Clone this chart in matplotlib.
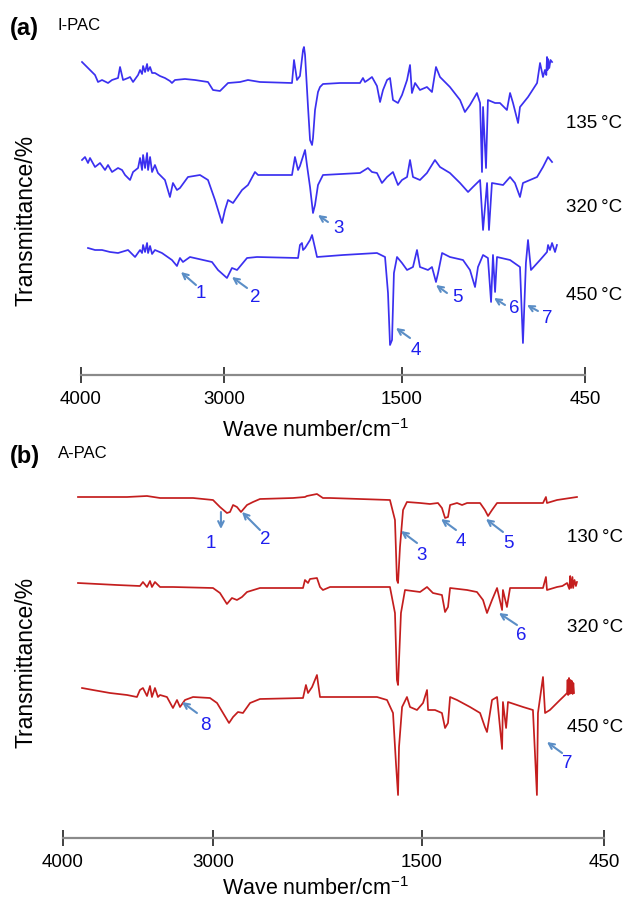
import numpy as np
import matplotlib
matplotlib.use('Agg')
import matplotlib.pyplot as plt

plt.rcParams['font.family'] = ['Liberation Sans', 'DejaVu Sans']
plt.rcParams['mathtext.fontset'] = 'custom'
plt.rcParams['mathtext.rm'] = 'Liberation Sans'

####FTIR spectra, (a) I-PAC and (b) A-PAC####
tick_wn = [4000, 3000, 1500, 450]

# ---- (a) I-PAC ----
a135_wn = [3993, 3951, 3902, 3881, 3853, 3811, 3783, 3741, 3727, 3706, 3671, 3657, 3636, 3601, 3587, 3573,
           3566, 3552, 3538, 3531, 3517, 3503, 3483, 3448, 3413, 3378, 3364, 3343, 3273, 3203, 3112, 3077,
           3028, 2966, 2865, 2798, 2697, 2427, 2410, 2385, 2360, 2334, 2326, 2317, 2292, 2275, 2258, 2250,
           2233, 2208, 2191, 2166, 2022, 1854, 1829, 1812, 1787, 1753, 1711, 1685, 1660, 1626, 1601, 1576,
           1534, 1500, 1471, 1454, 1443, 1425, 1397, 1357, 1328, 1305, 1282, 1225, 1167, 1139, 1110, 1070,
           1052, 1041, 1035, 1018, 1007, 966, 938, 898, 880, 863, 834, 823, 777, 725, 708, 691, 680, 672,
           668, 665, 662, 655, 648, 639]
a135_t = [313, 307, 300, 293, 295, 292, 295, 297, 308, 295, 297, 298, 293, 300, 305, 301,
          309, 303, 311, 304, 308, 302, 302, 299, 297, 294, 292, 295, 296, 295, 293, 285,
          284, 292, 293, 295, 293, 292, 315, 295, 299, 325, 328, 320, 268, 235, 230, 237,
          265, 283, 288, 291, 292, 292, 297, 293, 295, 298, 289, 273, 285, 295, 297, 275,
          272, 280, 295, 310, 282, 292, 285, 288, 283, 308, 298, 288, 275, 263, 270, 282,
          272, 203, 268, 207, 275, 272, 272, 265, 282, 272, 252, 268, 278, 292, 312, 298, 305, 300,
          318, 305, 316, 307, 315, 313]

a320_wn = [3993, 3972, 3951, 3937, 3902, 3867, 3832, 3811, 3783, 3741, 3713, 3692, 3657, 3636, 3601, 3587,
           3573, 3566, 3552, 3538, 3531, 3517, 3503, 3483, 3462, 3413, 3378, 3357, 3329, 3308, 3252, 3168,
           3112, 3063, 3014, 2992, 2966, 2924, 2848, 2798, 2739, 2713, 2427, 2402, 2376, 2360, 2317, 2301,
           2275, 2250, 2233, 2208, 2166, 1854, 1787, 1753, 1711, 1669, 1626, 1576, 1534, 1500, 1471, 1454,
           1437, 1397, 1357, 1311, 1282, 1225, 1167, 1121, 1093, 1052, 1035, 1012, 1001, 984, 920, 880,
           852, 823, 806, 725, 691, 662, 639]
a320_t = [215, 218, 212, 217, 208, 212, 205, 210, 203, 207, 205, 200, 195, 203, 207, 217,
          205, 220, 207, 222, 205, 218, 203, 210, 202, 195, 178, 192, 185, 187, 198, 200,
          195, 175, 152, 165, 175, 172, 185, 190, 203, 200, 200, 218, 205, 209, 225, 210,
          188, 162, 170, 190, 200, 202, 207, 203, 202, 192, 198, 203, 190, 195, 198, 215,
          198, 195, 202, 215, 208, 202, 192, 183, 188, 195, 145, 192, 145, 192, 190, 198,
          192, 178, 192, 198, 208, 218, 213]

a450_wn = [3951, 3902, 3853, 3797, 3741, 3671, 3622, 3587, 3573, 3566, 3552, 3538, 3531, 3517, 3503, 3483,
           3434, 3364, 3329, 3308, 3287, 3238, 3084, 3042, 2975, 2933, 2890, 2806, 2722, 2376, 2360, 2343,
           2334, 2317, 2275, 2258, 2233, 2216, 1997, 1711, 1643, 1618, 1601, 1584, 1568, 1542, 1500, 1471,
           1437, 1414, 1397, 1351, 1328, 1305, 1293, 1270, 1225, 1150, 1110, 1081, 1064, 1035, 1007, 989,
           978, 966, 955, 880, 823, 806, 789, 777, 760, 708, 668, 662, 651, 639, 622, 611]
a450_t = [127, 125, 125, 123, 122, 125, 118, 125, 122, 130, 123, 132, 122, 129, 121, 125,
          122, 115, 109, 117, 113, 118, 113, 105, 97, 107, 105, 117, 118, 117, 130, 132,
          125, 127, 135, 140, 127, 118, 120, 122, 118, 82, 30, 35, 102, 118, 112, 105,
          108, 125, 108, 105, 108, 93, 102, 122, 118, 115, 105, 88, 108, 120, 117, 73,
          120, 83, 118, 115, 108, 32, 112, 135, 105, 115, 123, 130, 125, 132, 123, 130]

a_temps = ['135\u2009°C', '320\u2009°C', '450\u2009°C']
a_peaks = ['1', '2', '3', '4', '5', '6', '7']
a_head_wn = [3301, 2933, 2208, 1551, 1305, 972, 783]
a_head_t = [103, 98, 160, 47, 90, 77, 70]
a_tail_wn = [3196, 2806, 2124, 1454, 1242, 909, 720]
a_tail_t = [90, 87, 153, 37, 82, 70, 64]
a_lab_wn = [3161, 2739, 2031, 1420, 1184, 857, 668]
a_lab_t = [82, 78, 147, 25, 78, 67, 57]

# ---- (b) A-PAC ----
b130_wn = [3900, 3573, 3440, 3353, 3133, 3000, 2950, 2900, 2878, 2856, 2828, 2799, 2756, 2713, 2663, 2426,
           2340, 2326, 2254, 2211, 2160, 1730, 1694, 1680, 1672, 1658, 1636, 1608, 1514, 1454, 1408, 1385,
           1367, 1350, 1338, 1298, 1269, 1240, 1165, 1137, 1119, 1096, 1067, 952, 802, 785, 779, 721, 606]
b130_t = [341, 341, 342, 340, 340, 338, 331, 325, 326, 333, 331, 326, 333, 336, 339, 340,
          341, 342, 344, 340, 340, 338, 318, 258, 255, 291, 328, 336, 335, 334, 335, 330,
          320, 321, 333, 335, 333, 335, 335, 328, 322, 328, 335, 335, 335, 341, 335, 338, 341]

b320_wn = [3900, 3640, 3487, 3467, 3440, 3420, 3407, 3387, 3353, 3267, 3000, 2950, 2900, 2864, 2828, 2792,
           2756, 2663, 2354, 2340, 2318, 2304, 2254, 2232, 2211, 2160, 1730, 1694, 1680, 1672, 1651, 1622,
           1514, 1471, 1437, 1385, 1367, 1350, 1338, 1240, 1183, 1148, 1125, 1096, 1067, 1038, 1033, 1010,
           992, 802, 785, 779, 721, 690, 663, 650, 645, 640, 632, 628, 620, 612, 606]
b320_t = [255, 253, 252, 256, 251, 257, 251, 256, 251, 251, 250, 245, 234, 240, 238, 241,
          246, 250, 250, 258, 255, 259, 260, 251, 248, 251, 251, 225, 158, 153, 225, 248,
          246, 251, 245, 243, 226, 231, 250, 248, 246, 238, 225, 238, 250, 228, 248, 231,
          250, 250, 261, 248, 251, 252, 255, 249, 262, 250, 261, 250, 258, 252, 256]

b450_wn = [3873, 3800, 3687, 3573, 3507, 3487, 3467, 3440, 3420, 3407, 3387, 3367, 3353, 3307, 3267, 3240,
           3220, 3187, 3133, 3020, 2971, 2928, 2885, 2856, 2821, 2785, 2734, 2663, 2354, 2333, 2318, 2289,
           2254, 2232, 1823, 1751, 1708, 1687, 1672, 1665, 1643, 1608, 1586, 1536, 1494, 1471, 1465, 1425,
           1385, 1367, 1350, 1338, 1298, 1223, 1165, 1137, 1125, 1096, 1067, 1038, 1033, 1015, 1004, 917,
           860, 837, 831, 802, 790, 762, 704, 680, 663, 660, 657, 652, 648, 643, 640, 635, 631, 627, 623]
b450_t = [150, 148, 145, 143, 141, 148, 150, 142, 152, 141, 150, 141, 143, 141, 130, 138,
          131, 138, 141, 140, 135, 125, 115, 121, 126, 125, 135, 139, 140, 153, 145, 151,
          163, 141, 141, 138, 125, 75, 43, 91, 131, 141, 131, 128, 135, 148, 128, 128,
          125, 110, 115, 141, 138, 131, 125, 111, 106, 138, 141, 89, 136, 110, 136, 131,
          128, 43, 125, 161, 125, 128, 138, 142, 145, 158, 143, 160, 144, 158, 145, 157, 144, 155, 145]

b_temps = ['130\u2009°C', '320\u2009°C', '450\u2009°C']
b_peaks = ['1', '2', '3', '4', '5', '6', '7', '8']
b_head_wn = [2943, 2792, 1651, 1390, 1131, 1056, 779, 3207]
b_head_t = [309, 326, 307, 319, 319, 225, 96, 136]
b_tail_wn = [2943, 2663, 1536, 1304, 1033, 952, 692, 3107]
b_tail_t = [326, 308, 295, 308, 306, 213, 85, 125]
b_lab_wn = [3013, 2627, 1500, 1275, 1004, 929, 663, 3053]
b_lab_t = [295, 299, 283, 297, 295, 202, 75, 112]


def broken_scale(tick_pos):
    # piecewise linear wavenumber axis, like the original instrument plot
    wn = [450, 1500, 3000, 4000]
    pos = tick_pos[::-1]
    fwd = lambda w: np.interp(w, wn, pos)
    inv = lambda p: np.interp(p, pos, wn)
    return fwd, inv


def px(x, y):
    return x / 628, 1 - y / 900


fig = plt.figure(figsize=(6.28, 9), dpi=100)

panels = [
    dict(rect=[81 / 628, 1 - 375 / 900, 504 / 628, 335 / 900], pos=[504, 361, 183, 0], ylim=335,
         color='#3b30f0',
         curves=[(a135_wn, a135_t), (a320_wn, a320_t), (a450_wn, a450_t)],
         temps=a_temps, temp_xy=[(566, 124), (566, 207), (566, 295)],
         peaks=a_peaks, head=(a_head_wn, a_head_t), tail=(a_tail_wn, a_tail_t), lab=(a_lab_wn, a_lab_t),
         tag='(a)', tag_y=28, name='I-PAC', xlab_y=431, ylab_y=220),
    dict(rect=[63 / 628, 1 - 838 / 900, 541 / 628, 358 / 900], pos=[541, 391, 182, 0], ylim=358,
         color='#c41e1e',
         curves=[(b130_wn, b130_t), (b320_wn, b320_t), (b450_wn, b450_t)],
         temps=b_temps, temp_xy=[(567, 537), (567, 628), (567, 728)],
         peaks=b_peaks, head=(b_head_wn, b_head_t), tail=(b_tail_wn, b_tail_t), lab=(b_lab_wn, b_lab_t),
         tag='(b)', tag_y=456, name='A-PAC', xlab_y=889, ylab_y=662),
]

for p in panels:
    ax = fig.add_axes(p['rect'])
    fwd, inv = broken_scale(p['pos'])
    ax.set_xscale('function', functions=(fwd, inv))
    ax.set_xlim(4000, 450)
    ax.set_ylim(0, p['ylim'])

    for wn, t in p['curves']:
        ax.plot(wn, t, color=p['color'], lw=1.25)

    for i, lab in enumerate(p['peaks']):
        ax.annotate('', xy=(p['head'][0][i], p['head'][1][i]),
                    xytext=(p['tail'][0][i], p['tail'][1][i]),
                    arrowprops=dict(arrowstyle='->', color='#5b8ec6', lw=1.5, shrinkA=0, shrinkB=0))
        ax.text(p['lab'][0][i], p['lab'][1][i], lab, color='#1f1fee', fontsize=13.5,
                ha='center', va='center')

    for s in ['top', 'left', 'right']:
        ax.spines[s].set_visible(False)
    ax.spines['bottom'].set_color('#8a8a8a')
    ax.spines['bottom'].set_linewidth(1.6)
    ax.set_xticks(tick_wn)
    ax.set_xticklabels([str(t) for t in tick_wn])
    ax.xaxis.set_minor_locator(matplotlib.ticker.NullLocator())
    ax.tick_params(axis='x', direction='inout', length=11, width=1.3, color='#333333',
                   labelsize=13.5, pad=6)
    ax.set_yticks([])
    ax.patch.set_alpha(0)

    for txt, (x, y) in zip(p['temps'], p['temp_xy']):
        fig.text(*px(x, y), txt, fontsize=13.5, ha='left', va='center')

    fig.text(*px(10, p['tag_y']), p['tag'], fontsize=17, fontweight='bold', ha='left', va='center')
    fig.text(*px(58, p['tag_y'] - 2), p['name'], fontsize=12, ha='left', va='center')
    fig.text(*px(316, p['xlab_y']), 'Wave number/cm$^{\\mathrm{-1}}$', fontsize=15.5,
             ha='center', va='center')
    fig.text(*px(26, p['ylab_y']), 'Transmittance/%', fontsize=16.5, rotation=90,
             ha='center', va='center')

plt.savefig('out.png', dpi=100)
